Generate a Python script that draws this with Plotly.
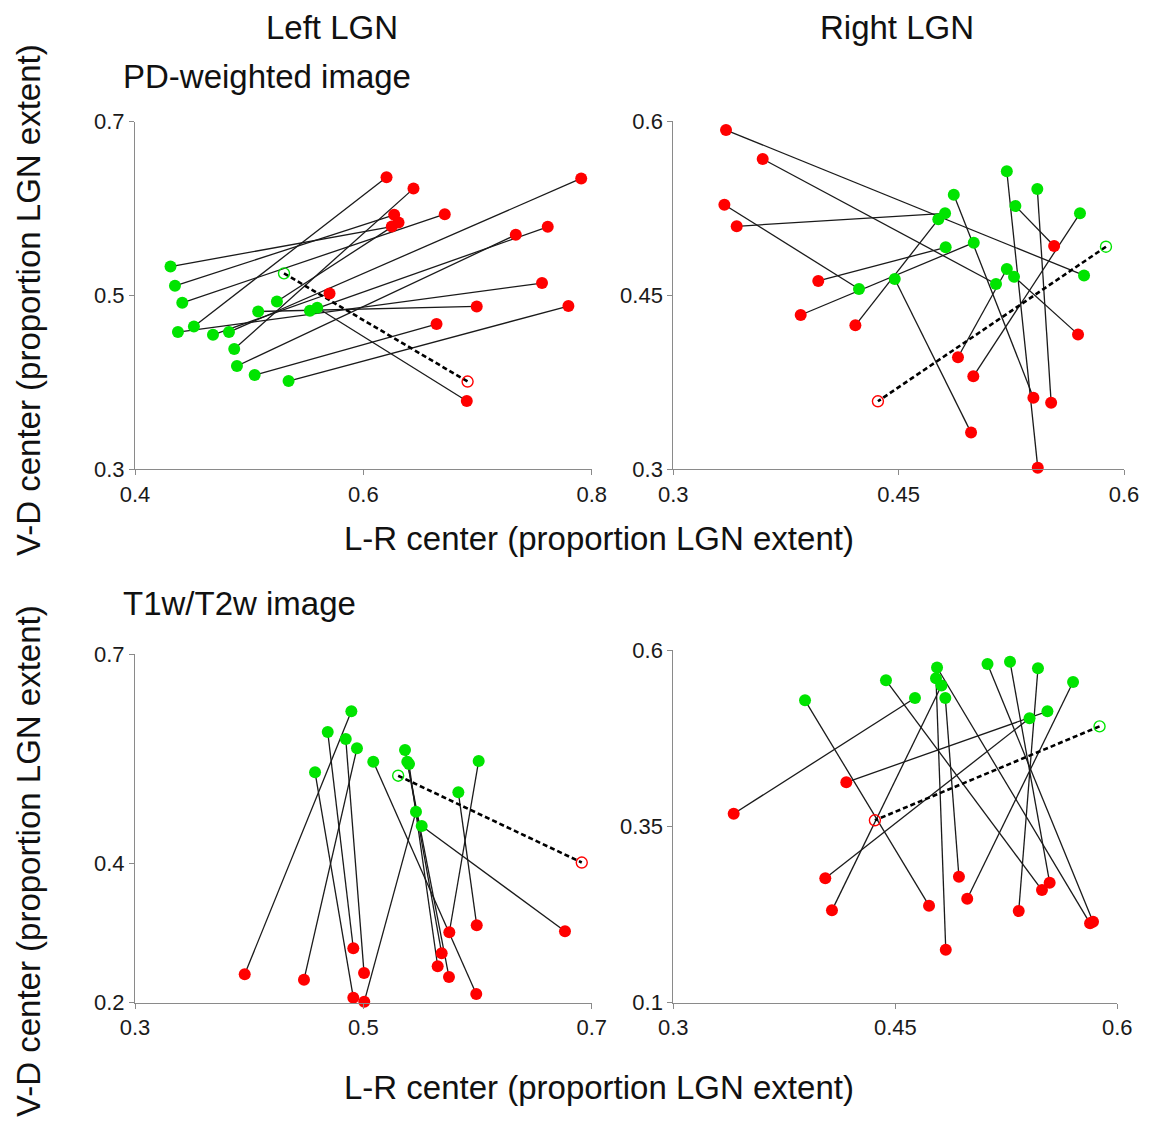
import plotly.graph_objects as go

W, H = 1153, 1121

# ---------------- data ----------------
# PD-weighted image, Left LGN (subject-wise pairs: green point -> red point)
pd_left_green_x = [0.4311, 0.4350, 0.4414, 0.4376, 0.4516, 0.4683, 0.4823, 0.4869, 0.4893, 0.5048, 0.5345, 0.5079, 0.5243, 0.5532, 0.5596]
pd_left_green_y = [0.5333, 0.5111, 0.4916, 0.4579, 0.4644, 0.4548, 0.4579, 0.4384, 0.4189, 0.4085, 0.4016, 0.4816, 0.4931, 0.4824, 0.4859]
pd_left_red_x = [0.6249, 0.6270, 0.6713, 0.7565, 0.6203, 0.5704, 0.7908, 0.6439, 0.7335, 0.6641, 0.7796, 0.6993, 0.6308, 0.7615, 0.6906]
pd_left_red_y = [0.5793, 0.5928, 0.5936, 0.5143, 0.6361, 0.5023, 0.6347, 0.6230, 0.5698, 0.4671, 0.4878, 0.4874, 0.5839, 0.5790, 0.3786]

# PD-weighted image, Right LGN
pd_right_green_x = [0.4809, 0.5148, 0.4236, 0.4813, 0.5000, 0.4764, 0.5220, 0.5707, 0.4474, 0.4867, 0.5423, 0.5220, 0.5277, 0.5268, 0.5734]
pd_right_green_y = [0.5205, 0.4596, 0.4553, 0.4912, 0.4952, 0.5153, 0.4725, 0.5205, 0.4639, 0.5365, 0.5414, 0.5567, 0.5268, 0.4659, 0.4670]
pd_right_red_x = [0.3422, 0.3595, 0.3340, 0.3965, 0.3848, 0.4212, 0.4895, 0.4997, 0.4982, 0.5397, 0.5515, 0.5426, 0.5535, 0.5694, 0.3351]
pd_right_red_y = [0.5093, 0.5673, 0.5279, 0.4622, 0.4329, 0.4240, 0.3965, 0.3801, 0.3316, 0.3617, 0.3574, 0.3014, 0.4923, 0.4162, 0.5922]

# T1w/T2w image, Left LGN
t1_left_green_x = [0.4895, 0.4688, 0.4846, 0.4944, 0.4577, 0.5087, 0.5365, 0.5385, 0.5400, 0.5461, 0.5511, 0.5832, 0.6010]
t1_left_green_y = [0.6178, 0.5882, 0.5781, 0.5648, 0.5304, 0.5456, 0.5624, 0.5456, 0.5423, 0.4739, 0.4534, 0.5017, 0.5466]
t1_left_red_x = [0.3961, 0.4912, 0.5006, 0.4480, 0.4912, 0.5989, 0.5750, 0.5686, 0.5651, 0.5008, 0.6766, 0.5993, 0.5753]
t1_left_red_y = [0.2408, 0.2781, 0.2427, 0.2330, 0.2072, 0.2125, 0.2369, 0.2709, 0.2523, 0.2015, 0.3024, 0.3110, 0.3010]

# T1w/T2w image, Right LGN
t1_right_green_x = [0.3890, 0.4437, 0.4633, 0.4782, 0.4775, 0.4812, 0.4838, 0.5123, 0.5275, 0.5464, 0.5701, 0.5407, 0.5528]
t1_right_green_y = [0.5287, 0.5570, 0.5319, 0.5752, 0.5599, 0.5497, 0.5319, 0.5801, 0.5834, 0.5741, 0.5546, 0.5033, 0.5131]
t1_right_red_x = [0.4728, 0.5491, 0.3408, 0.5816, 0.4841, 0.4072, 0.4930, 0.5836, 0.5543, 0.5334, 0.4986, 0.4027, 0.4169]
t1_right_red_y = [0.2375, 0.2597, 0.3679, 0.2125, 0.1751, 0.2309, 0.2786, 0.2148, 0.2701, 0.2299, 0.2474, 0.2763, 0.4124]

# reference (open markers, dashed line): [green, red]
ref_left_x = [0.5305, 0.6913]
ref_left_y = [0.5255, 0.4010]
ref_right_x = [0.5880, 0.4362]
ref_right_y = [0.4917, 0.3586]

# axes
x_range_left, y_range_pd_left = [0.4, 0.8], [0.3, 0.7]
x_ticks_pd_left, y_ticks_pd_left = [0.4, 0.6, 0.8], [0.3, 0.5, 0.7]
x_range_right, y_range_pd_right = [0.3, 0.6], [0.3, 0.6]
x_ticks_right, y_ticks_pd_right = [0.3, 0.45, 0.6], [0.3, 0.45, 0.6]
x_range_t1_left, y_range_t1_left = [0.3, 0.7], [0.2, 0.7]
x_ticks_t1_left, y_ticks_t1_left = [0.3, 0.5, 0.7], [0.2, 0.4, 0.7]
y_range_t1_right = [0.1, 0.6]
y_ticks_t1_right = [0.1, 0.35, 0.6]

col_titles = ["Left LGN", "Right LGN"]
row_titles = ["PD-weighted image", "T1w/T2w image"]
x_title = "L-R center (proportion LGN extent)"
y_title = "V-D center (proportion LGN extent)"

# ---------------- figure ----------------
FONT = "Liberation Sans, Arial, sans-serif"
GREEN = "#00e400"
RED = "#ff0000"
AXIS_COL = "#8a8a8a"

def px(x):
    return x / W

def py(y):
    return 1 - y / H

panels = [
    dict(gx=pd_left_green_x, gy=pd_left_green_y, rx=pd_left_red_x, ry=pd_left_red_y,
         refx=ref_left_x, refy=ref_left_y, xr=x_range_left, yr=y_range_pd_left,
         xt=x_ticks_pd_left, yt=y_ticks_pd_left,
         xd=[px(135), px(591.7)], yd=[py(469.3), py(121.7)]),
    dict(gx=pd_right_green_x, gy=pd_right_green_y, rx=pd_right_red_x, ry=pd_right_red_y,
         refx=ref_right_x, refy=ref_right_y, xr=x_range_right, yr=y_range_pd_right,
         xt=x_ticks_right, yt=y_ticks_pd_right,
         xd=[px(673.3), px(1124)], yd=[py(469.3), py(121)]),
    dict(gx=t1_left_green_x, gy=t1_left_green_y, rx=t1_left_red_x, ry=t1_left_red_y,
         refx=ref_left_x, refy=ref_left_y, xr=x_range_t1_left, yr=y_range_t1_left,
         xt=x_ticks_t1_left, yt=y_ticks_t1_left,
         xd=[px(135), px(591.7)], yd=[py(1002.7), py(654)]),
    dict(gx=t1_right_green_x, gy=t1_right_green_y, rx=t1_right_red_x, ry=t1_right_red_y,
         refx=ref_right_x, refy=ref_right_y, xr=x_range_right, yr=y_range_t1_right,
         xt=x_ticks_right, yt=y_ticks_t1_right,
         xd=[px(673.3), px(1117.3)], yd=[py(1002.7), py(650)]),
]

fig = go.Figure()
layout_axes = {}

for i, p in enumerate(panels, start=1):
    xa = "x" if i == 1 else f"x{i}"
    ya = "y" if i == 1 else f"y{i}"
    # subject lines
    lx, ly = [], []
    for gx, gy, rx, ry in zip(p["gx"], p["gy"], p["rx"], p["ry"]):
        lx += [gx, rx, None]
        ly += [gy, ry, None]
    fig.add_trace(go.Scatter(x=lx, y=ly, mode="lines", xaxis=xa, yaxis=ya,
                             line=dict(color="#1a1a1a", width=1.3), hoverinfo="skip",
                             showlegend=False))
    # reference dashed
    fig.add_trace(go.Scatter(x=p["refx"], y=p["refy"], mode="lines", xaxis=xa, yaxis=ya,
                             line=dict(color="#000000", width=2.6, dash="5px,3px"),
                             hoverinfo="skip", showlegend=False))
    # green and red points
    fig.add_trace(go.Scatter(x=p["gx"], y=p["gy"], mode="markers", xaxis=xa, yaxis=ya,
                             marker=dict(color=GREEN, size=12, line=dict(width=0)),
                             cliponaxis=False, showlegend=False))
    fig.add_trace(go.Scatter(x=p["rx"], y=p["ry"], mode="markers", xaxis=xa, yaxis=ya,
                             marker=dict(color=RED, size=12, line=dict(width=0)),
                             cliponaxis=False, showlegend=False))
    # reference open markers
    fig.add_trace(go.Scatter(x=p["refx"], y=p["refy"], mode="markers", xaxis=xa, yaxis=ya,
                             marker=dict(symbol="circle-open", color=[GREEN, RED], size=11,
                                         line=dict(width=1.4)),
                             cliponaxis=False, showlegend=False))

    axcommon = dict(showgrid=False, zeroline=False, showline=True, linecolor=AXIS_COL,
                    linewidth=1, ticks="outside", ticklen=5, tickcolor=AXIS_COL,
                    automargin=False,
                    tickfont=dict(family=FONT, size=22, color="#1a1a1a"))
    xkey = "xaxis" if i == 1 else f"xaxis{i}"
    ykey = "yaxis" if i == 1 else f"yaxis{i}"
    layout_axes[xkey] = dict(axcommon, domain=p["xd"], range=p["xr"], tickvals=p["xt"],
                             ticktext=[f"{v:g}" for v in p["xt"]], anchor=ya)
    layout_axes[ykey] = dict(axcommon, domain=p["yd"], range=p["yr"], tickvals=p["yt"],
                             ticktext=[f"{v:g}" for v in p["yt"]], anchor=xa)

annotations = []
def add_text(text, x, y, xanchor="center", size=33, angle=0):
    annotations.append(dict(text=text, x=px(x), y=py(y), xref="paper", yref="paper",
                            xanchor=xanchor, yanchor="middle", showarrow=False,
                            textangle=angle, font=dict(family=FONT, size=size, color="#111111")))

add_text(col_titles[0], 332, 28)
add_text(col_titles[1], 897, 28)
add_text(row_titles[0], 121, 77, xanchor="left")
add_text(row_titles[1], 121, 603, xanchor="left")
add_text(x_title, 599, 538)
add_text(x_title, 599, 1087)
add_text(y_title, 28, 300, angle=-90)
add_text(y_title, 28, 861, angle=-90)

fig.update_layout(width=W, height=H,
                  margin=dict(l=0, r=0, t=0, b=0, pad=0, autoexpand=False),
                  plot_bgcolor="white", paper_bgcolor="white",
                  annotations=annotations, **layout_axes)

fig.write_html("out.html")
